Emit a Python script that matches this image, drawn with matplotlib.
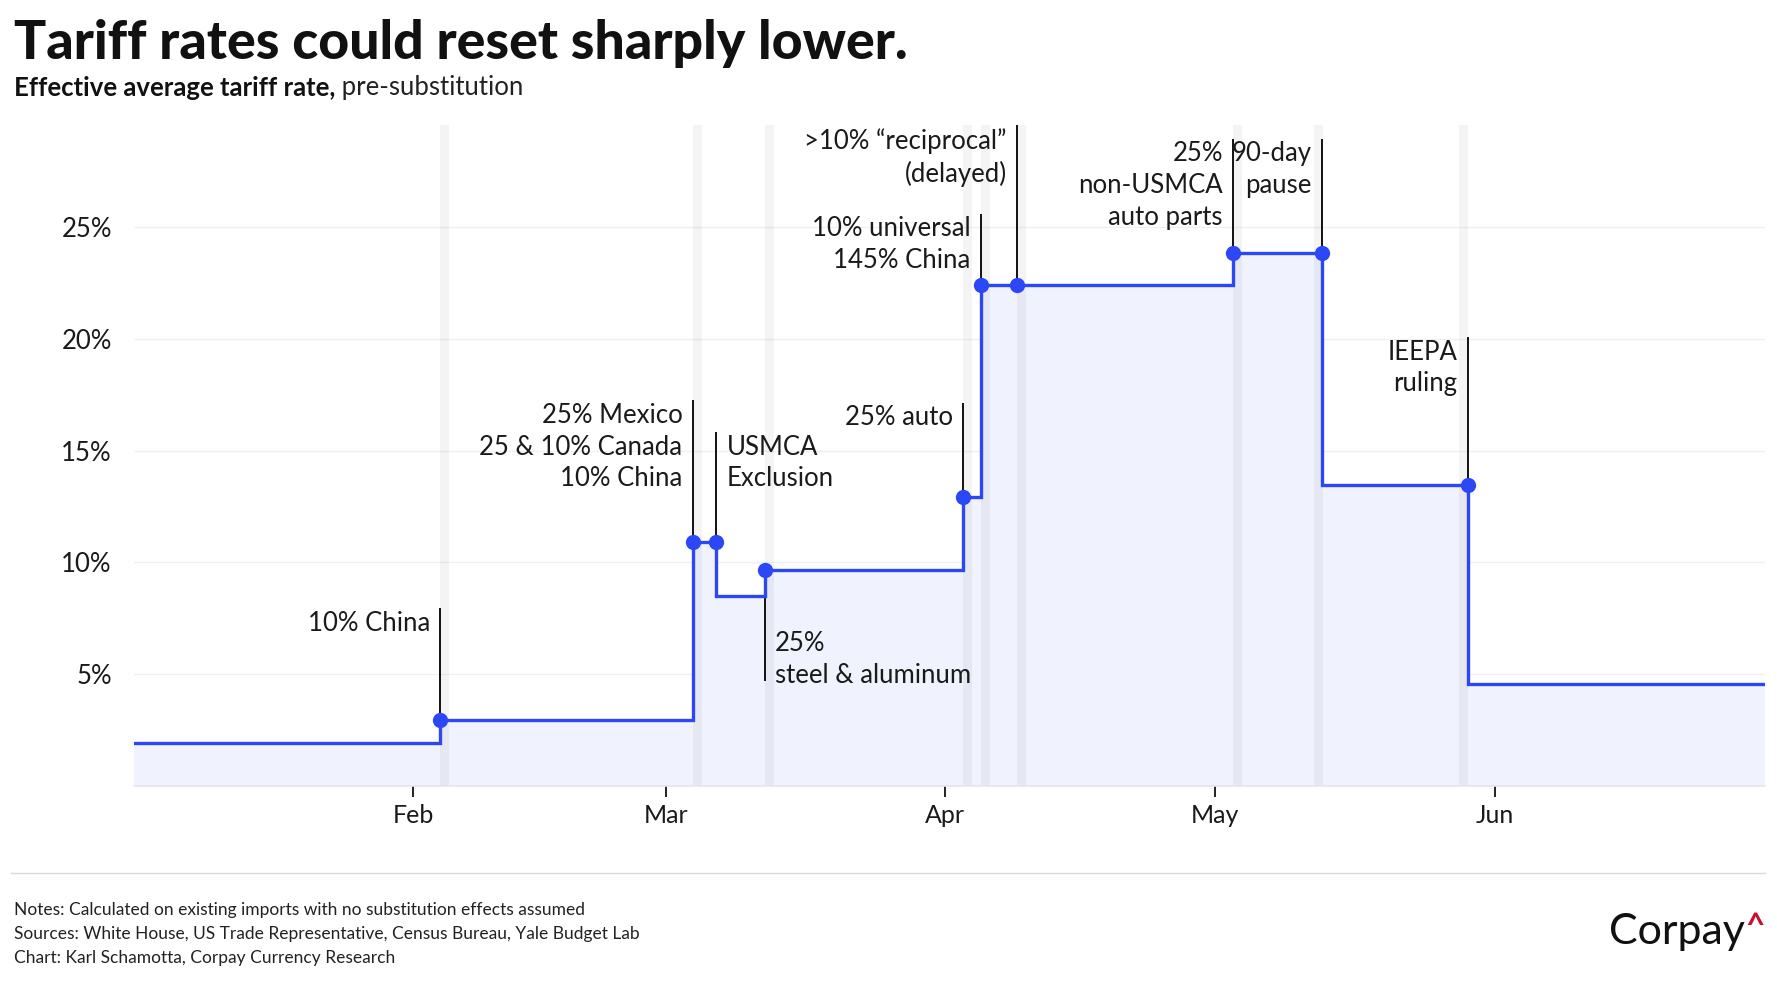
import matplotlib
matplotlib.use("Agg")
import matplotlib.pyplot as plt
import numpy as np
import pandas as pd

# ---------------- data ----------------
step_dates = ["2025-01-01", "2025-02-04", "2025-03-04", "2025-03-06 14:00",
              "2025-03-12", "2025-04-03", "2025-04-05", "2025-05-03",
              "2025-05-12 20:00", "2025-05-29"]
step_values = [1.93, 2.97, 10.92, 8.48, 9.68, 12.94, 22.39, 23.84, 13.47, 4.55]
series_end = "2025-07-01"

event_dates = ["2025-02-04", "2025-03-04", "2025-03-06 14:00", "2025-03-12",
               "2025-04-03", "2025-04-05", "2025-04-09", "2025-05-03",
               "2025-05-12 20:00", "2025-05-29"]
event_labels = ["10% China",
                "25% Mexico\n25 & 10% Canada\n10% China",
                "USMCA\nExclusion",
                "25%\nsteel & aluminum",
                "25% auto",
                "10% universal\n145% China",
                ">10% \u201creciprocal\u201d\n(delayed)",
                "25%\nnon-USMCA\nauto parts",
                "90-day\npause",
                "IEEPA\nruling"]

band_dates = ["2025-02-04", "2025-03-04", "2025-03-12", "2025-04-03",
              "2025-04-05", "2025-04-09", "2025-05-03", "2025-05-12",
              "2025-05-28"]

month_ticks = ["2025-02-01", "2025-03-01", "2025-04-01", "2025-05-01", "2025-06-01"]
month_labels = ["Feb", "Mar", "Apr", "May", "Jun"]
y_ticks = [5, 10, 15, 20, 25]
y_tick_labels = ["5%", "10%", "15%", "20%", "25%"]

# ---------------- styles / layout ----------------
annot_ends = [7.94, 17.25, 15.84, 4.7, 17.15, 25.6, 29.56, 28.95, 28.95, 20.09]
annot_side = ["left", "left", "right", "right", "left", "left", "left",
              "left", "left", "left"]

FONT = "Lato"
BLUE = "#2c47f5"
FILL = "#f0f3fd"
TXT = "#1a1a1a"
ANN_FS = 18.5
LSP = 1.33

plt.rcParams["font.family"] = [FONT, "DejaVu Sans"]


def to_dt(lst):
    return pd.to_datetime(lst, format="mixed")


fig = plt.figure(figsize=(17.77, 10), dpi=100)
ax = fig.add_axes([134 / 1777, 1 - 786 / 1000, (1765 - 134) / 1777, (786 - 125) / 1000])

sx = to_dt(step_dates)
xs = list(sx) + [pd.Timestamp(series_end)]
ys = list(step_values) + [step_values[-1]]

ax.fill_between(xs, ys, 0, step="post", color=FILL, lw=0, zorder=1)
for b in to_dt(band_dates):
    ax.axvspan(b, b + pd.Timedelta(days=1), color="#000000", alpha=0.045,
               lw=0, zorder=2)
ax.step(xs, ys, where="post", color=BLUE, lw=2.4, zorder=4,
        solid_joinstyle="miter")

ed = to_dt(event_dates)
sv = np.array(step_values)
dot_y = []
for t in ed:
    i_at = np.searchsorted(sx, t, side="right") - 1
    i_bef = np.searchsorted(sx, t, side="left") - 1
    dot_y.append(max(sv[i_at], sv[max(i_bef, 0)]))

for t, y0, y1, lab, side in zip(ed, dot_y, annot_ends, event_labels, annot_side):
    ax.plot([t, t], [y0, y1], color="#111111", lw=1.4, zorder=3,
            solid_capstyle="butt")
    dx = -7.5 if side == "left" else 7.5
    ha = "right" if side == "left" else "left"
    if y1 >= y0:
        ax.annotate(lab, xy=(t, y1), xytext=(dx, -2), textcoords="offset points",
                    ha=ha, va="top", fontsize=ANN_FS, color=TXT, linespacing=LSP,
                    multialignment=ha, zorder=6, annotation_clip=False)
    else:
        ax.annotate(lab, xy=(t, y1), xytext=(dx, -1.5), textcoords="offset points",
                    ha=ha, va="baseline", fontsize=ANN_FS, color=TXT, linespacing=LSP,
                    multialignment=ha, zorder=6, annotation_clip=False)

ax.plot(ed, dot_y, "o", color=BLUE, ms=11, zorder=5, mec="none")

ax.set_xlim(pd.Timestamp(step_dates[0]), pd.Timestamp(series_end))
ax.set_ylim(0, 29.56)
ax.set_xticks(to_dt(month_ticks))
ax.set_xticklabels(month_labels)
ax.set_yticks(y_ticks)
ax.set_yticklabels(y_tick_labels)
ax.tick_params(axis="x", length=8, width=1.3, color="#111111", pad=5,
               labelsize=18, labelcolor=TXT)
ax.tick_params(axis="y", length=0, pad=16, labelsize=18.5, labelcolor=TXT)
ax.grid(axis="y", color="#f0f0f0", lw=1, zorder=0)
ax.set_axisbelow(True)
for s in ["top", "right", "left"]:
    ax.spines[s].set_visible(False)
ax.spines["bottom"].set_color("#e3e6f0")
ax.spines["bottom"].set_linewidth(1.2)
ax.spines["bottom"].set_zorder(3)

# ---------------- titles ----------------
fig.text(14 / 1777, 1 - 59 / 1000, "Tariff rates could reset sharply lower.",
         fontsize=38.6, fontweight="black", color="#111111", ha="left", va="baseline")
t1 = fig.text(14 / 1777, 1 - 95.5 / 1000, "Effective average tariff rate,",
              fontsize=18.5, fontweight="bold", color="#111111", ha="left", va="baseline")
ax.annotate(" pre-substitution", xy=(1, 0), xycoords=t1, xytext=(0, 0),
            textcoords="offset points", ha="left", va="bottom", fontsize=18.5,
            color="#222222", annotation_clip=False)

# ---------------- footer ----------------
fig.add_artist(plt.Line2D([11 / 1777, 1765 / 1777], [1 - 873 / 1000, 1 - 873 / 1000],
                          color="#d9d9d9", lw=1))
notes = ["Notes: Calculated on existing imports with no substitution effects assumed",
         "Sources: White House, US Trade Representative, Census Bureau, Yale Budget Lab",
         "Chart: Karl Schamotta, Corpay Currency Research"]
for i, n in enumerate(notes):
    fig.text(14 / 1777, 1 - (915.5 + 24 * i) / 1000, n, fontsize=12.5, color="#222222",
             ha="left", va="baseline")

fig.text(1745 / 1777, 1 - 944 / 1000, "Corpay", fontsize=31, color="#111111",
         ha="right", va="baseline")
fig.text(1765 / 1777, 1 - 912 / 1000, "^", fontsize=24, fontweight="bold",
         color="#c8102e", ha="right", va="top")

fig.savefig("out.png", dpi=100, facecolor="white")
